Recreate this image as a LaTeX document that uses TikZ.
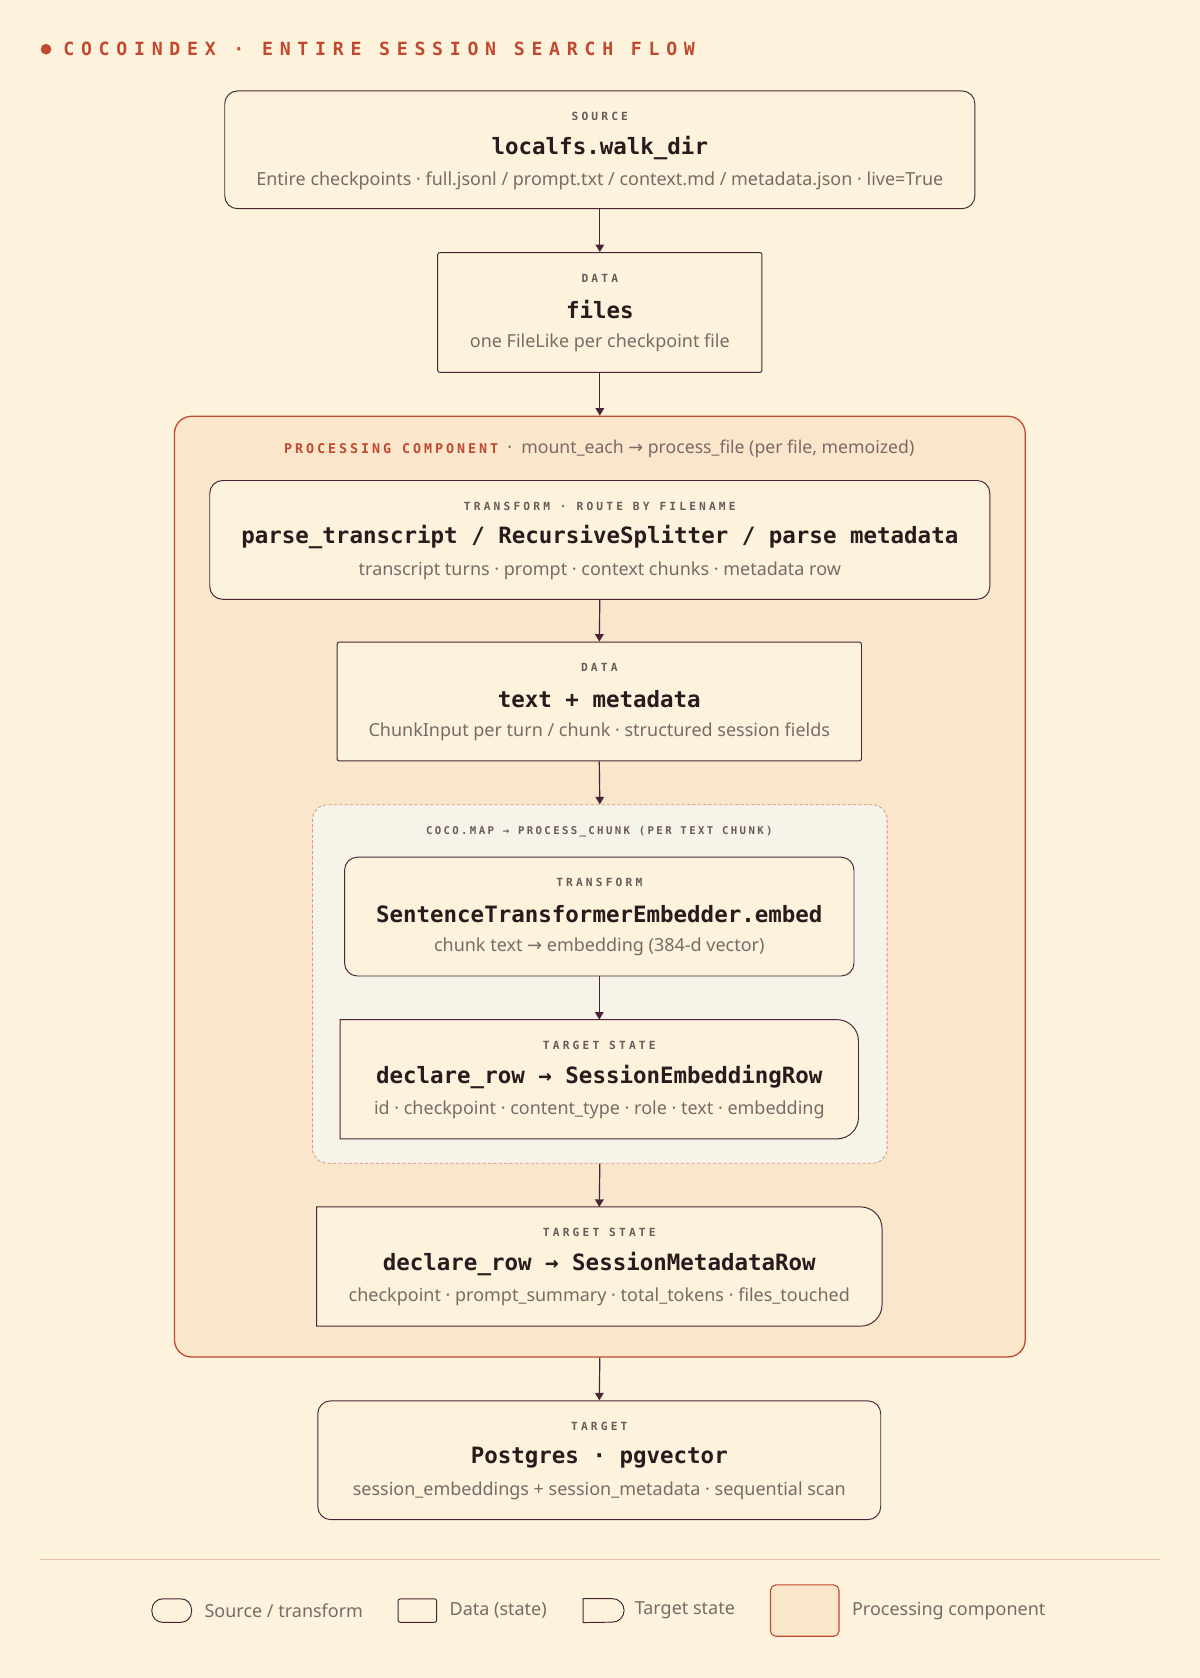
\documentclass[tikz,border=0pt]{standalone}
\usepackage{fontspec}
\setmainfont{Noto Sans}
\newfontfamily\monob{DejaVu Sans Mono}
\newfontfamily\arrf{DejaVu Sans}
\newcommand\ra{{\arrf →}}
\usetikzlibrary{arrows.meta}
\definecolor{bg}{HTML}{FDF3DC}
\definecolor{ink}{HTML}{4A2436}
\definecolor{txt}{HTML}{2A1A1E}
\definecolor{sub}{HTML}{7A6A66}
\definecolor{lab}{HTML}{6B5A5A}
\definecolor{pfill}{HTML}{F9E6CB}
\definecolor{orng}{HTML}{C0492F}
\definecolor{dfill}{HTML}{F6F3E9}
\definecolor{dline}{HTML}{DC9484}
\pgfdeclarelayer{bgA}\pgfdeclarelayer{bgB}
\pgfsetlayers{bgA,bgB,main}
\tikzset{
 box/.style={draw=ink,line width=0.9pt,fill=bg,inner sep=0pt},
 srcb/.style={box,rounded corners=12pt},
 datb/.style={box,rounded corners=2pt},
 lab/.style={font=\monob\bfseries\fontsize{10.5}{12}\selectfont\addfontfeature{LetterSpace=28},text=lab,inner sep=0pt},
 ttl/.style={font=\monob\fontsize{21}{24}\selectfont,text=txt,inner sep=0pt},
 sub/.style={font=\fontsize{16.8}{19}\selectfont,text=sub,inner sep=0pt},
 arr/.style={draw=ink,line width=1.1pt,-{Triangle[length=7pt,width=8pt]}},
}
\newcommand\mybox[9]{%
 \ifx\relax#6\relax
  \node[inner sep=0pt,minimum width={(#4-#2)*1pt},minimum height={(#5-#3)*1pt}] (#1) at ({(#2+#4)/2},{(#3+#5)/2}) {};
  \begin{pgfonlayer}{bgB}
  \draw[ink,line width=0.9pt,fill=bg] (#1.north west) -- ([xshift=-20pt]#1.north east) arc[start angle=90,end angle=0,radius=20pt] -- ([yshift=20pt]#1.south east) arc[start angle=0,end angle=-90,radius=20pt] -- (#1.south west) -- cycle;
  \end{pgfonlayer}
 \else
  \node[#6,minimum width={(#4-#2)*1pt},minimum height={(#5-#3)*1pt}] (#1) at ({(#2+#4)/2},{(#3+#5)/2}) {};
 \fi
 \node[lab] (#1l) at ({(#2+#4)/2},{#3+24}) {#7};
 \node[ttl] (#1t) at ({(#2+#4)/2},{#3+53}) {#8};
 \node[sub] (#1s) at ({(#2+#4)/2},{#3+84}) {#9};
}
\begin{document}
\begin{tikzpicture}[x=1pt,y=-1pt]
\begin{pgfonlayer}{bgA}
\fill[bg] (0,0) rectangle (1121,1568);
\end{pgfonlayer}
\useasboundingbox (0,0) rectangle (1121,1568);
\fill[orng] (43,46) circle (5);
\node[anchor=west,inner sep=0pt,text=orng,font=\monob\bfseries\fontsize{17}{20}\selectfont\addfontfeature{LetterSpace=37}] (title) at (59,46) {COCOINDEX · ENTIRE SESSION SEARCH FLOW};

\mybox{src}{210}{85}{911}{195}{srcb}{SOURCE}{\bfseries localfs.walk\_dir}{Entire checkpoints · full.jsonl / prompt.txt / context.md / metadata.json · live=True}
\mybox{files}{409}{236}{712}{348}{datb}{DATA}{\bfseries files}{one FileLike per checkpoint file}

\begin{pgfonlayer}{bgA}
\node[draw=orng,line width=1.2pt,fill=pfill,rounded corners=16pt,minimum width=795pt,minimum height=879pt,inner sep=0pt] (proc) at (560.5,828.5) {};
\node[draw=dline,dash pattern=on 3pt off 2pt,line width=0.8pt,fill=dfill,rounded corners=14pt,minimum width=537pt,minimum height=335pt,inner sep=0pt] (map) at (560.5,919.5) {};
\end{pgfonlayer}
\node[inner sep=0pt] (ph) at (560,419) {{\monob\bfseries\fontsize{12.5}{14}\selectfont\addfontfeature{LetterSpace=22}\color{orng}PROCESSING COMPONENT}\fontsize{16.5}{18}\selectfont\color{sub}\ \ ·\ \ mount\_each \ra{} process\_file (per file, memoized)};

\mybox{tr}{196}{449}{925}{560}{srcb}{TRANSFORM · ROUTE BY FILENAME}{\bfseries parse\_transcript / RecursiveSplitter / parse metadata}{transcript turns · prompt · context chunks · metadata row}
\mybox{tm}{315}{600}{805}{711}{datb}{DATA}{\bfseries text + metadata}{ChunkInput per turn / chunk · structured session fields}

\node[lab,font=\monob\bfseries\fontsize{10}{12}\selectfont\addfontfeature{LetterSpace=22}] (mapl) at (560,777) {COCO.MAP → PROCESS\_CHUNK (PER TEXT CHUNK)};

\mybox{emb}{322}{801}{798}{912}{srcb}{TRANSFORM}{\bfseries SentenceTransformerEmbedder.embed}{chunk text \ra{} embedding (384-d vector)}
\mybox{ser}{318}{953}{802}{1064}{}{TARGET STATE}{\bfseries declare\_row → SessionEmbeddingRow}{id · checkpoint · content\_type · role · text · embedding}
\mybox{smr}{296}{1128}{824}{1239}{}{TARGET STATE}{\bfseries declare\_row → SessionMetadataRow}{checkpoint · prompt\_summary · total\_tokens · files\_touched}
\mybox{pg}{297}{1309}{823}{1420}{srcb}{TARGET}{\bfseries Postgres · pgvector}{session\_embeddings + session\_metadata · sequential scan}

\draw[arr] (src.south) -- (files.north);
\draw[arr] (files.south) -- (proc.north);
\draw[arr] (tr.south) -- (tm.north);
\draw[arr] (tm.south) -- (map.north);
\draw[arr] (emb.south) -- (ser.north);
\draw[arr] (map.south) -- (smr.north);
\draw[arr] (proc.south) -- (pg.north);

\draw[draw=dline!60!bg,line width=0.8pt] (37,1457) coordinate (s1) -- (1084,1457) coordinate (s2);

\node[srcb,minimum width=37pt,minimum height=22pt,rounded corners=10pt] (lg1) at (160.5,1505) {};
\node[sub,anchor=west] (lg1t) at (191,1505) {Source / transform};
\node[datb,minimum width=36pt,minimum height=22pt] (lg2) at (390,1505) {};
\node[sub,anchor=west] (lg2t) at (420,1505) {Data (state)};
\node[inner sep=0pt,minimum width=37pt,minimum height=22pt] (lg3) at (563.5,1505) {};
\draw[ink,line width=0.9pt,fill=bg] (lg3.north west) -- ([xshift=-10pt]lg3.north east) arc[start angle=90,end angle=-90,radius=11pt] -- (lg3.south west) -- cycle;
\node[sub,anchor=west] (lg3t) at (593,1505) {Target state};
\node[draw=orng,line width=1pt,fill=pfill,rounded corners=5pt,minimum width=64pt,minimum height=48pt,inner sep=0pt] (lg4) at (752,1505) {};
\node[sub,anchor=west] (lg4t) at (796,1505) {Processing component};
\end{tikzpicture}
\end{document}
